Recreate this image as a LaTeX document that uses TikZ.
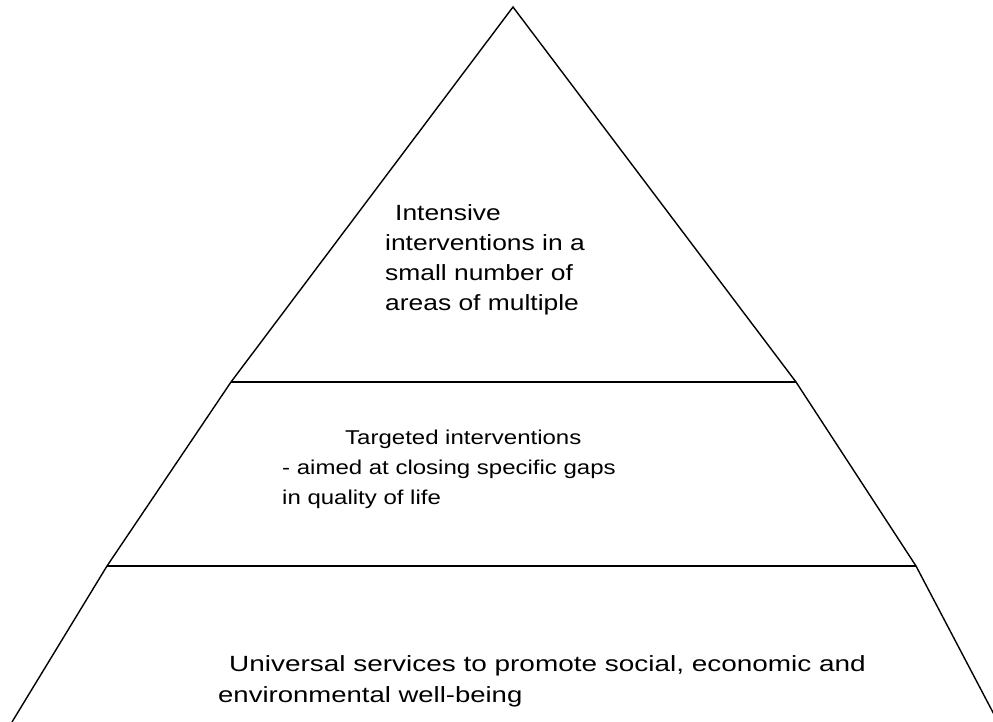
\documentclass[tikz,border=0pt]{standalone}
\usepackage{fontspec}
\setmainfont{Liberation Sans}
% horizontally stretched line of text
\newcommand\stretchline[2]{\scalebox{#1}[1]{#2}}
\begin{document}
\begin{tikzpicture}[x=1pt,y=-1pt,
  edge/.style={line width=1.4pt, line join=miter},
  txt/.style={anchor=base west, inner sep=0pt, font=\fontsize{22}{26}\selectfont},
  smalltxt/.style={txt, font=\fontsize{20}{24}\selectfont}]
\useasboundingbox (0,0) rectangle (993,722);
\clip (0,0) rectangle (993,722);

% outline points of the three tiers
\coordinate (apex) at (513,7);
\coordinate (l1) at (231,382); \coordinate (r1) at (796,382);
\coordinate (l2) at (107,566); \coordinate (r2) at (916,566);
\coordinate (l3) at (12,722);  \coordinate (r3) at (998,722);

% sides and dividing lines
\draw[edge] (l3) -- (l2) -- (l1) -- (apex) -- (r1) -- (r2) -- (r3);
\draw[edge] (l1) -- (r1);
\draw[edge] (l2) -- (r2);

% top tier
\node[txt] (t1) at (395,221) {\stretchline{1.2}{Intensive}};
\node[txt] (t2) at (385,251) {\stretchline{1.2}{interventions in a}};
\node[txt] (t3) at (385,280) {\stretchline{1.2}{small number of}};
\node[txt] (t4) at (385,310) {\stretchline{1.2}{areas of multiple}};

% middle tier
\node[smalltxt] (m1) at (345,444) {\stretchline{1.2}{Targeted interventions}};
\node[smalltxt] (m2) at (282,474) {\stretchline{1.2}{- aimed at closing specific gaps}};
\node[smalltxt] (m3) at (282,504) {\stretchline{1.2}{in quality of life}};

% bottom tier
\node[txt] (b1) at (229,671) {\stretchline{1.27}{Universal services to promote social, economic and}};
\node[txt] (b2) at (218,702) {\stretchline{1.25}{environmental well-being}};
\end{tikzpicture}
\end{document}
